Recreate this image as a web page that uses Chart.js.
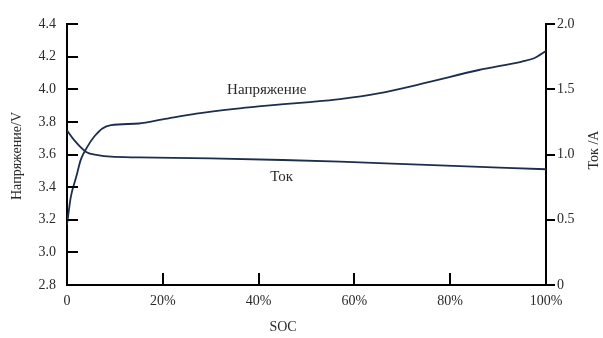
<!DOCTYPE html>
<html>
<head>
<meta charset="utf-8">
<script src="https://cdn.jsdelivr.net/npm/chart.js@4/dist/chart.umd.min.js"></script>
<style>
  html, body { margin: 0; padding: 0; background: #fff; }
  canvas { display: block; }
</style>
</head>
<body>
<canvas id="soc" width="603" height="338"></canvas>
<script>
// Charge curve: voltage and current against state of charge
const socVoltage = [0, 0.8, 1.9, 2.9, 4.3, 5.7, 7.4, 9.2, 15, 20, 27, 35, 40, 50, 57, 65, 75, 86, 95, 97.5, 100]
const voltage = [3.17, 3.34, 3.46, 3.57, 3.65, 3.71, 3.76, 3.78, 3.79, 3.815, 3.85, 3.88, 3.895, 3.92, 3.94, 3.975, 4.04, 4.118, 4.17, 4.19, 4.235]

const socCurrent = [0, 1.5, 4, 6.4, 9.2, 15, 30, 45, 57, 75, 100]
const current = [1.185, 1.11, 1.02, 0.996, 0.983, 0.978, 0.97, 0.958, 0.945, 0.92, 0.887]

const socTicks = [0, 20, 40, 60, 80, 100]
const voltageTicks = [2.8, 3.0, 3.2, 3.4, 3.6, 3.8, 4.0, 4.2, 4.4]
const currentTicks = [0, 0.5, 1.0, 1.5, 2.0]

const lineColor = '#1d2e4c'
const textColor = '#2a2a2a'
const serif = '"Liberation Serif", "DejaVu Serif", serif'

const toPoints = (xs, ys) => xs.map((x, i) => ({ x, y: ys[i] }))

// tick marks (inward on left/bottom, outward on right), curve names and axis titles
const decorations = {
  id: 'decorations',
  afterDraw(chart) {
    const { ctx, chartArea: a, scales: { x, y, y2 } } = chart
    ctx.save()
    ctx.strokeStyle = '#000'
    ctx.lineWidth = 2
    ctx.beginPath()
    y.ticks.forEach(t => {
      if (t.value === y.min) return
      const py = Math.round(y.getPixelForValue(t.value))
      ctx.moveTo(a.left, py); ctx.lineTo(a.left + 11, py)
    })
    y2.ticks.forEach(t => {
      const py = Math.round(y2.getPixelForValue(t.value))
      ctx.moveTo(a.right, py); ctx.lineTo(a.right + 9, py)
    })
    x.ticks.forEach(t => {
      if (t.value === x.min || t.value === x.max) return
      const px = Math.round(x.getPixelForValue(t.value))
      ctx.moveTo(px, a.bottom); ctx.lineTo(px, a.bottom - 12)
    })
    ctx.stroke()

    ctx.fillStyle = textColor
    ctx.font = '15px ' + serif
    ctx.textAlign = 'center'
    ctx.textBaseline = 'middle'
    ctx.fillText('Напряжение', x.getPixelForValue(41.7), y.getPixelForValue(3.995))
    ctx.fillText('Ток', x.getPixelForValue(44.8), y2.getPixelForValue(0.83))

    ctx.font = '14px ' + serif
    ctx.fillText('SOC', 283, 327)

    ctx.translate(17, 156)
    ctx.rotate(-Math.PI / 2)
    ctx.fillText('Напряжение/V', 0, 0)
    ctx.setTransform(1, 0, 0, 1, 0, 0)
    ctx.translate(594, 150)
    ctx.rotate(-Math.PI / 2)
    ctx.fillText('Ток /A', 0, 0)
    ctx.restore()
  }
}

const tickFont = { family: serif, size: 14 }
const axisBorder = { display: true, color: '#000', width: 2 }
const quietGrid = { display: true, drawOnChartArea: false, drawTicks: false }

new Chart(document.getElementById('soc'), {
  type: 'line',
  data: {
    datasets: [
      {
        label: 'Напряжение',
        data: toPoints(socVoltage, voltage),
        yAxisID: 'y',
        borderColor: lineColor,
        borderWidth: 1.8,
        pointRadius: 0,
        cubicInterpolationMode: 'monotone',
      },
      {
        label: 'Ток',
        data: toPoints(socCurrent, current),
        yAxisID: 'y2',
        borderColor: lineColor,
        borderWidth: 1.8,
        pointRadius: 0,
        cubicInterpolationMode: 'monotone',
      },
    ],
  },
  options: {
    responsive: false,
    animation: false,
    layout: { padding: { top: 24, left: 0, right: 0, bottom: 0 } },
    plugins: { legend: { display: false }, tooltip: { enabled: false } },
    scales: {
      x: {
        type: 'linear',
        min: socTicks[0],
        max: socTicks[socTicks.length - 1],
        afterBuildTicks: s => { s.ticks = socTicks.map(value => ({ value })) },
        afterFit: s => { s.height = 53 },
        ticks: {
          color: textColor,
          font: tickFont,
          padding: 8,
          maxRotation: 0,
          callback: v => (v === 0 ? '0' : v + '%'),
        },
        grid: quietGrid,
        border: axisBorder,
      },
      y: {
        position: 'left',
        min: voltageTicks[0],
        max: voltageTicks[voltageTicks.length - 1],
        afterBuildTicks: s => { s.ticks = voltageTicks.map(value => ({ value })) },
        afterFit: s => { s.width = 67 },
        ticks: { color: textColor, font: tickFont, padding: 11, callback: v => v.toFixed(1) },
        grid: quietGrid,
        border: axisBorder,
      },
      y2: {
        position: 'right',
        min: currentTicks[0],
        max: currentTicks[currentTicks.length - 1],
        afterBuildTicks: s => { s.ticks = currentTicks.map(value => ({ value })) },
        afterFit: s => { s.width = 57 },
        ticks: { color: textColor, font: tickFont, padding: 11, callback: v => (v === 0 ? '0' : v.toFixed(1)) },
        grid: quietGrid,
        border: axisBorder,
      },
    },
  },
  plugins: [decorations],
})
</script>
</body>
</html>
